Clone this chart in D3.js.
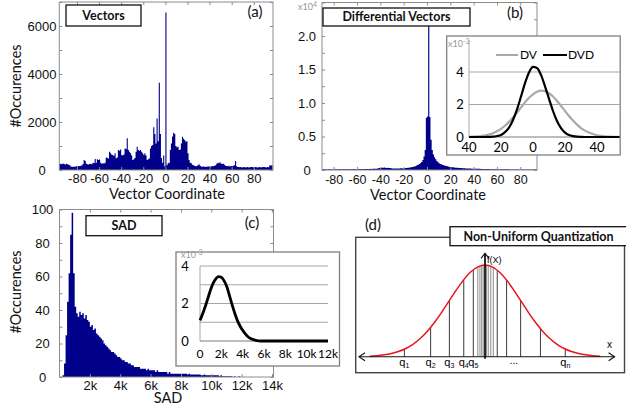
<!DOCTYPE html>
<html>
<head>
<meta charset="utf-8">
<title>Vector and SAD statistics</title>
<script src="https://d3js.org/d3.v7.min.js"></script>
<style>
  body { margin: 0; background: #fff; }
  svg { display: block; font-family: Lato, 'Noto Sans', sans-serif; }
  .frame { fill: none; stroke: #8c8c8c; stroke-width: 1; }
  .tick line { stroke: #8c8c8c; }
  .tick text { font-size: 13px; fill: #111; }
  .boxtitle { font-weight: bold; font-size: 12.5px; fill: #111; }
  .panel { font-size: 15px; fill: #111; }
  .atitle { font-size: 14.5px; fill: #111; }
  .mult { font-size: 9px; fill: #999; }
</style>
</head>
<body>
<svg id="fig" width="626" height="406"></svg>
<script>
// ---------- data ----------
// (a) vector coordinates, one bin per integer, first bin at -96
var vecStart = -96;
var vecCounts = [
  250, 260, 240, 270, 250, 230, 260, 240, 220, 200,
  150, 140, 130, 150, 140, 160, 150, 170, 160, 180,
  190, 250, 420, 380, 260, 240, 230, 250, 260, 240,
  300, 280, 460, 300, 450, 420, 440, 300, 260, 280,
  270, 300, 520, 500, 480, 760, 700, 640, 620, 580,
  700, 490, 520, 830, 800, 850, 620, 600, 650, 900,
  880, 1320, 830, 760, 700, 600, 420, 450, 500, 760,
  970, 830, 800, 830, 760, 700, 620, 700, 600, 420,
  450, 480, 900, 1000, 1040, 1780, 1500, 1100, 2150, 1200,
  3640, 1500, 500, 300, 600, 150, 6560, 200, 280, 300,
  830, 1100, 1400, 1550, 1500, 1000, 950, 970, 830, 850,
  1100, 1390, 1300, 1250, 1180, 1200, 700, 420, 300, 280,
  220, 200, 180, 160, 170, 200, 240, 180, 150, 140,
  150, 140, 130, 150, 140, 160, 140, 150, 170, 160,
  180, 200, 260, 300, 280, 320, 270, 250, 260, 220,
  180, 170, 160, 180, 150, 170, 160, 180, 200, 370,
  160, 120, 130, 110, 120, 100, 110, 120, 100, 110,
  120, 100, 110, 130, 120, 110, 100, 120, 110, 100,
  110, 120, 100, 110, 130, 120, 110, 100, 120, 110,
  200, 180, 210
];

// (b) differential vectors, one bin per integer, first bin at -90
var diffStart = -90;
var diffCounts = [
  100, 90, 110, 100, 90, 100, 110, 100, 90, 100,
  100, 110, 100, 120, 100, 110, 100, 120, 110, 100,
  120, 110, 130, 120, 110, 130, 120, 140, 130, 120,
  140, 130, 150, 140, 130, 150, 160, 140, 150, 160,
  150, 170, 160, 180, 170, 190, 200, 220, 250, 280,
  320, 350, 330, 360, 340, 300, 320, 280, 300, 260,
  240, 220, 230, 210, 220, 240, 230, 250, 260, 240,
  270, 290, 300, 320, 350, 380, 400, 450, 480, 520,
  600, 700, 800, 900, 1000, 1200, 1500, 2000, 3000, 7800,
  8000, 21500, 7900, 4500, 3000, 2300, 1900, 1600, 1350, 1150,
  1000, 900, 850, 750, 700, 650, 600, 550, 500, 480,
  450, 420, 400, 380, 350, 330, 320, 300, 290, 280,
  270, 260, 250, 240, 230, 220, 220, 210, 200, 200,
  190, 190, 180, 180, 170, 170, 160, 160, 150, 150,
  150, 140, 140, 140, 130, 130, 130, 120, 120, 120,
  120, 110, 110, 110, 110, 100, 100, 100, 100, 100,
  100, 90, 90, 90, 90, 90, 80, 80, 80, 80,
  80, 80, 70, 70, 70, 70, 70, 70, 70, 70,
  70, 70, 70, 70
];

// (b) inset: fitted densities (x10^-3)
var pdfX = [-40, -37.5, -35, -32.5, -30, -27.5, -25, -22.5, -20, -17.5,
            -15, -12.5, -10, -7.5, -5, -2.5, 0, 2.5, 5, 7.5,
            10, 12.5, 15, 17.5, 20, 22.5, 25, 27.5, 30, 32.5,
            35, 37.5, 40, 42.5, 45, 47.5, 50, 52.5, 55];
var dvPdf = [0.011, 0.02, 0.035, 0.06, 0.096, 0.154, 0.234, 0.35, 0.5, 0.69,
             0.93, 1.2, 1.5, 1.82, 2.13, 2.41, 2.63, 2.79, 2.85, 2.82,
             2.69, 2.49, 2.22, 1.92, 1.6, 1.29, 1.01, 0.76, 0.55, 0.39,
             0.27, 0.18, 0.11, 0.069, 0.041, 0.024, 0.014, 0.008, 0.004];
var dvdPdf = [0, 0, 0, 0, 0, 0.01, 0.02, 0.06, 0.13, 0.3,
              0.58, 1.05, 1.7, 2.49, 3.31, 3.97, 4.31, 4.25, 3.82, 3.12,
              2.35, 1.6, 0.98, 0.54, 0.27, 0.12, 0.05, 0.018, 0.006, 0,
              0, 0, 0, 0, 0, 0, 0, 0, 0];

// (c) SAD histogram, 100-wide bins from 200
var sadStart = 200, sadStep = 100;
var sadCounts = [
  1, 8, 25, 45, 62, 85, 98, 62, 42, 38,
  36, 39, 37, 38, 35, 37, 34, 33, 30, 31,
  28, 29, 26, 25, 24, 23, 22, 20, 19, 18,
  17, 16, 15, 15, 14, 13, 12, 12, 11, 10,
  10, 9, 9, 8, 8, 7, 7, 6, 6, 6,
  6, 5, 5, 5, 5, 4, 5, 4, 4, 4,
  4, 3, 4, 3, 3, 3, 3, 3, 3, 2,
  3, 2, 2, 2, 2, 2, 2, 2, 2, 2,
  2, 2, 1.5, 2, 1.5, 1.5, 1.5, 1.5, 1.5, 1.5,
  1.5, 1, 1, 1.5, 1, 1, 1, 1, 1, 1,
  1, 1, 1, 0.5, 1, 0.5, 0.5, 0.5, 0.5, 0.5,
  0.5, 0.5, 0, 0.5, 0, 0, 0.5, 0
];
// (c) inset density (x10^-3)
var sadPdfX = [0, 250, 500, 750, 1000, 1250, 1500, 1750, 2000, 2250,
               2500, 2750, 3000, 3250, 3500, 3750, 4000, 4250, 4500, 4750,
               5000, 5250, 5500, 5750, 6000, 6500, 7000, 7500, 8000, 8500,
               9000, 9500, 10000, 10500, 11000, 11500, 12000];
var sadPdf = [1.1, 1.45, 1.85, 2.3, 2.75, 3.1, 3.33, 3.43, 3.4, 3.22,
              2.92, 2.45, 1.95, 1.5, 1.1, 0.8, 0.57, 0.38, 0.23, 0.13,
              0.07, 0.03, 0.01, 0, 0, 0, 0, 0, 0, 0,
              0, 0, 0, 0, 0, 0, 0];

// (d) schematic normal density and quantisation levels
var gaussX = [-3.2, -3.0, -2.8, -2.6, -2.4, -2.2, -2.0, -1.8, -1.6, -1.4, -1.2,
              -1.0, -0.8, -0.6, -0.4, -0.2, 0, 0.2, 0.4, 0.6, 0.8, 1.0,
              1.2, 1.4, 1.6, 1.8, 2.0, 2.2, 2.4, 2.6, 2.8, 3.0, 3.2];
var gaussY = [0.006, 0.011, 0.02, 0.034, 0.056, 0.089, 0.135, 0.198, 0.278, 0.375, 0.487,
              0.607, 0.726, 0.835, 0.923, 0.98, 1, 0.98, 0.923, 0.835, 0.726, 0.607,
              0.487, 0.375, 0.278, 0.198, 0.135, 0.089, 0.056, 0.034, 0.02, 0.011, 0.006];
var quantLevels = [-2.24, -1.51, -0.99, -0.59, -0.325, -0.2, -0.14, -0.09, -0.05,
                   0.04, 0.09, 0.16, 0.23, 0.34, 0.6, 0.99, 1.54, 2.23];
var qLabelAt = [-2.24, -1.51, -0.99, -0.59, -0.325, 2.23];
var qLabelSub = ["1", "2", "3", "4", "5", "n"];

// ---------- drawing ----------
var svg = d3.select("#fig");
var ink = "#00008a";
var plain = function(d) { return String(d); };  // keeps the short hyphen minus

function histPath(x, y, start, step, counts) {
  var pts = counts.map(function(c, i) { return [start + i * step, c]; });
  pts.push([start + counts.length * step, counts[counts.length - 1]]);
  return d3.area()
    .x(function(d) { return x(d[0]); })
    .y0(y(0))
    .y1(function(d) { return y(d[1]); })
    .curve(d3.curveStepAfter)(pts);
}

function framedAxes(g, x, y, o) {
  var l = x.range()[0], r = x.range()[1], b = y.range()[0], t = y.range()[1];
  var xb = g.append("g").attr("transform", "translate(0," + b + ")")
    .call(d3.axisBottom(x).tickValues(o.xTicks).tickFormat(o.xFmt).tickSize(-3).tickPadding(o.xPad))
    .call(function(a) { a.select(".domain").remove(); });
  if (o.xFont) xb.selectAll("text").style("font-size", o.xFont);
  g.append("g").attr("transform", "translate(0," + t + ")")
    .call(d3.axisTop(x).tickValues(o.xTicks).tickFormat("").tickSize(-3))
    .call(function(a) { a.select(".domain").remove(); });
  var yl = g.append("g").attr("transform", "translate(" + l + ",0)")
    .call(d3.axisLeft(y).tickValues(o.yTicks).tickFormat(o.yFmt).tickSize(-3))
    .call(function(a) { a.select(".domain").remove(); });
  yl.selectAll("text").attr("text-anchor", "middle").attr("x", o.yLabelX - l);
  g.append("g").attr("transform", "translate(" + r + ",0)")
    .call(d3.axisRight(y).tickValues(o.yTicks).tickFormat("").tickSize(-3))
    .call(function(a) { a.select(".domain").remove(); });
  g.append("rect").attr("class", "frame")
    .attr("x", l).attr("y", t).attr("width", r - l).attr("height", b - t);
}

function titleBox(x0, y0, x1, y1, label) {
  svg.append("rect").attr("x", x0).attr("y", y0).attr("width", x1 - x0).attr("height", y1 - y0)
    .attr("fill", "#fff").attr("stroke", "#111").attr("stroke-width", 1.3);
  svg.append("text").attr("class", "boxtitle").attr("x", (x0 + x1) / 2).attr("y", (y0 + y1) / 2)
    .attr("dy", "0.35em").attr("text-anchor", "middle").text(label);
}

function mult(x, y, exp) {
  var t = svg.append("text").attr("class", "mult").attr("x", x).attr("y", y);
  t.append("tspan").text("x10");
  t.append("tspan").attr("dy", -3).attr("font-size", "7px").text(exp);
}

// ---- (a) Vectors ----
var xA = d3.scaleLinear().domain([-96, 97.4]).range([59.3, 273]);
var yA = d3.scaleLinear().domain([0, 7000]).range([170, 2]);
var gA = svg.append("g");
gA.append("path").attr("d", histPath(xA, yA, vecStart, 1, vecCounts)).attr("fill", ink);
framedAxes(gA, xA, yA, {
  xTicks: d3.range(-80, 81, 20), xFmt: plain, xPad: 4,
  yTicks: d3.range(0, 7001, 1000), yFmt: function(d) { return d % 2000 === 0 ? d : ""; },
  yLabelX: 42
});
titleBox(66, 5, 141, 26, "Vectors");
svg.append("text").attr("class", "panel").attr("x", 255).attr("y", 12).attr("dy", "0.35em")
  .attr("text-anchor", "middle").text("(a)");
svg.append("text").attr("class", "atitle").attr("x", 167).attr("y", 198.5)
  .attr("text-anchor", "middle").text("Vector Coordinate");
svg.append("text").attr("class", "atitle").attr("transform", "translate(21,86) rotate(-90)")
  .attr("text-anchor", "middle").text("#Occurences");

// ---- (b) Differential Vectors ----
var xB = d3.scaleLinear().domain([-90, 94.3]).range([322, 537]);
var yB = d3.scaleLinear().domain([0, 25000]).range([170, 2.5]);
var gB = svg.append("g");
gB.append("path").attr("d", histPath(xB, yB, diffStart, 1, diffCounts)).attr("fill", ink);
framedAxes(gB, xB, yB, {
  xTicks: d3.range(-80, 81, 20), xFmt: plain, xPad: 5, xFont: "12.5px",
  yTicks: d3.range(0, 25001, 2500),
  yFmt: function(d) { return d === 0 ? "0" : (d % 5000 === 0 && d < 25000 ? (d / 10000).toFixed(1) : ""); },
  yLabelX: 307
});
mult(298, 10, "4");
titleBox(323, 8, 470, 26, "Differential Vectors");
svg.append("text").attr("class", "panel").attr("x", 515).attr("y", 13).attr("dy", "0.35em")
  .attr("text-anchor", "middle").text("(b)");
svg.append("text").attr("class", "atitle").attr("x", 428).attr("y", 199.5)
  .attr("text-anchor", "middle").text("Vector Coordinate");

// (b) inset
svg.append("rect").attr("x", 446.7).attr("y", 36).attr("width", 173.5).attr("height", 119)
  .attr("fill", "#fff").attr("stroke", "#808080").attr("stroke-width", 1.3);
var xBi = d3.scaleLinear().domain([-40, 55]).range([469, 621]);
var yBi = d3.scaleLinear().domain([0, 6]).range([137, 39.5]);
svg.append("clipPath").attr("id", "clipB").append("rect")
  .attr("x", 469).attr("y", 37).attr("width", 150.5).attr("height", 117);
var gBi = svg.append("g");
gBi.selectAll("line.grid").data([2, 4]).join("line").attr("class", "grid")
  .attr("x1", 469).attr("x2", 620).attr("y1", function(d) { return yBi(d); }).attr("y2", function(d) { return yBi(d); })
  .attr("stroke", "#a6a6a6");
gBi.append("line").attr("x1", 469).attr("x2", 469).attr("y1", 40).attr("y2", yBi(0)).attr("stroke", "#a6a6a6");
gBi.append("line").attr("x1", 469).attr("x2", 620).attr("y1", yBi(0)).attr("y2", yBi(0)).attr("stroke", "#7a7a7a");
gBi.selectAll("text.yl").data([0, 2, 4]).join("text").attr("class", "yl")
  .attr("x", 460).attr("y", function(d) { return yBi(d); }).attr("dy", "0.35em")
  .attr("text-anchor", "middle").attr("font-size", "13px").text(function(d) { return d; });
gBi.selectAll("text.xl").data([-40, -20, 0, 20, 40]).join("text").attr("class", "xl")
  .attr("x", function(d) { return xBi(d); }).attr("y", 147).attr("dy", "0.35em")
  .attr("text-anchor", "middle").attr("font-size", "13px").text(function(d) { return Math.abs(d); });
var lineB = function(vals) {
  return d3.line().x(function(d, i) { return xBi(pdfX[i]); }).y(function(d) { return yBi(d); })
    .curve(d3.curveMonotoneX)(vals);
};
gBi.append("path").attr("d", lineB(dvPdf)).attr("fill", "none").attr("stroke", "#a9a9a9")
  .attr("stroke-width", 2.2).attr("clip-path", "url(#clipB)");
gBi.append("path").attr("d", lineB(dvdPdf)).attr("fill", "none").attr("stroke", "#000")
  .attr("stroke-width", 2.2).attr("clip-path", "url(#clipB)");
mult(448, 47, "-3");
// legend
gBi.append("line").attr("x1", 496).attr("x2", 518).attr("y1", 55).attr("y2", 55).attr("stroke", "#a9a9a9").attr("stroke-width", 2);
gBi.append("text").attr("x", 520).attr("y", 55).attr("dy", "0.35em").attr("font-size", "12px").text("DV");
gBi.append("line").attr("x1", 543).attr("x2", 567).attr("y1", 55).attr("y2", 55).attr("stroke", "#000").attr("stroke-width", 2);
gBi.append("text").attr("x", 568).attr("y", 55).attr("dy", "0.35em").attr("font-size", "12px").text("DVD");

// ---- (c) SAD ----
var xC = d3.scaleLinear().domain([0, 14100]).range([59.5, 273.5]);
var yC = d3.scaleLinear().domain([0, 100]).range([377, 209.5]);
var gC = svg.append("g");
gC.append("path").attr("d", histPath(xC, yC, sadStart, sadStep, sadCounts)).attr("fill", ink);
framedAxes(gC, xC, yC, {
  xTicks: d3.range(2000, 14001, 2000), xFmt: function(d) { return d / 1000 + "k"; }, xPad: 4,
  yTicks: d3.range(0, 101, 10), yFmt: function(d) { return d % 20 === 0 ? d : ""; },
  yLabelX: 42.5
});
titleBox(86, 215.7, 162, 235.7, "SAD");
svg.append("text").attr("class", "panel").attr("x", 252).attr("y", 223).attr("dy", "0.35em")
  .attr("text-anchor", "middle").text("(c)");
svg.append("text").attr("class", "atitle").attr("x", 168).attr("y", 403)
  .attr("text-anchor", "middle").text("SAD");
svg.append("text").attr("class", "atitle").attr("transform", "translate(21,292) rotate(-90)")
  .attr("text-anchor", "middle").text("#Occurences");

// (c) inset
svg.append("rect").attr("x", 176).attr("y", 252).attr("width", 163.5).attr("height", 114)
  .attr("fill", "#fff").attr("stroke", "#808080").attr("stroke-width", 1.3);
var xCi = d3.scaleLinear().domain([0, 12000]).range([200, 328]);
var yCi = d3.scaleLinear().domain([0, 4]).range([341, 266]);
var gCi = svg.append("g");
gCi.selectAll("line.grid").data([1, 2, 3, 4]).join("line").attr("class", "grid")
  .attr("x1", 200).attr("x2", 328).attr("y1", function(d) { return yCi(d); }).attr("y2", function(d) { return yCi(d); })
  .attr("stroke", "#a6a6a6");
gCi.append("line").attr("x1", 200).attr("x2", 200).attr("y1", yCi(4)).attr("y2", yCi(0)).attr("stroke", "#a6a6a6");
gCi.append("line").attr("x1", 200).attr("x2", 328).attr("y1", yCi(0)).attr("y2", yCi(0)).attr("stroke", "#7a7a7a");
gCi.selectAll("text.yl").data([0, 2, 4]).join("text").attr("class", "yl")
  .attr("x", 185).attr("y", function(d) { return yCi(d); }).attr("dy", "0.35em")
  .attr("text-anchor", "middle").attr("font-size", "13px").text(function(d) { return d; });
gCi.selectAll("text.xl").data(d3.range(0, 12001, 2000)).join("text").attr("class", "xl")
  .attr("x", function(d) { return xCi(d); }).attr("y", 354).attr("dy", "0.35em")
  .attr("text-anchor", "middle").attr("font-size", "12px").text(function(d) { return d === 0 ? "0" : d / 1000 + "k"; });
gCi.append("path")
  .attr("d", d3.line().x(function(d, i) { return xCi(sadPdfX[i]); }).y(function(d) { return yCi(d); })
    .curve(d3.curveMonotoneX)(sadPdf))
  .attr("fill", "none").attr("stroke", "#000").attr("stroke-width", 2.8);
mult(181, 258, "-3");

// ---- (d) Non-Uniform Quantization ----
var xD = d3.scaleLinear().domain([-3.5, 3.6]).range([359, 614.6]);
var yD = d3.scaleLinear().domain([0, 1]).range([356.7, 265]);
function gaussAt(u) {
  var i = d3.bisectRight(gaussX, u) - 1;
  i = Math.max(0, Math.min(gaussX.length - 2, i));
  var f = (u - gaussX[i]) / (gaussX[i + 1] - gaussX[i]);
  return gaussY[i] + f * (gaussY[i + 1] - gaussY[i]);
}
var gD = svg.append("g");
svg.append("text").attr("class", "panel").attr("x", 373).attr("y", 225).attr("dy", "0.35em")
  .attr("text-anchor", "middle").text("(d)");
gD.append("rect").attr("x", 355.7).attr("y", 237.3).attr("width", 268.8).attr("height", 135.4)
  .attr("fill", "none").attr("stroke", "#444").attr("stroke-width", 1.4);
gD.selectAll("line.q").data(quantLevels).join("line").attr("class", "q")
  .attr("x1", function(d) { return xD(d); }).attr("x2", function(d) { return xD(d); })
  .attr("y1", yD(0)).attr("y2", function(d) { return yD(gaussAt(d)); })
  .attr("stroke", function(d) { return Math.abs(d) < 0.3 ? "#8a8a8a" : "#3a3a3a"; })
  .attr("stroke-width", 1);
gD.append("path")
  .attr("d", d3.line().x(function(d, i) { return xD(gaussX[i]); }).y(function(d) { return yD(d); })
    .curve(d3.curveNatural)(gaussY))
  .attr("fill", "none").attr("stroke", "#e8141b").attr("stroke-width", 1.5);
// axes with open arrowheads
var x0 = xD(-3.5), x1 = xD(3.6), yb = yD(0), xc = xD(0), ytop = 253.3;
gD.append("line").attr("x1", x0).attr("x2", x1).attr("y1", yb).attr("y2", yb).attr("stroke", "#111").attr("stroke-width", 1.1);
gD.append("path").attr("d", "M" + (x0 + 6) + "," + (yb - 4) + "L" + x0 + "," + yb + "L" + (x0 + 6) + "," + (yb + 4))
  .attr("fill", "none").attr("stroke", "#111").attr("stroke-width", 1.1);
gD.append("path").attr("d", "M" + (x1 - 6) + "," + (yb - 4) + "L" + x1 + "," + yb + "L" + (x1 - 6) + "," + (yb + 4))
  .attr("fill", "none").attr("stroke", "#111").attr("stroke-width", 1.1);
gD.append("line").attr("x1", xc).attr("x2", xc).attr("y1", yb + 2).attr("y2", ytop).attr("stroke", "#111").attr("stroke-width", 1.8);
gD.append("path").attr("d", "M" + (xc - 4) + "," + (ytop + 5) + "L" + xc + "," + ytop + "L" + (xc + 4) + "," + (ytop + 5))
  .attr("fill", "none").attr("stroke", "#111").attr("stroke-width", 1.1);
gD.append("text").attr("x", xc + 2).attr("y", 260).attr("dy", "0.35em")
  .attr("font-family", "'Liberation Sans', Arial, sans-serif").attr("font-size", "9px").text("f(X)");
gD.append("text").attr("x", 607).attr("y", 348)
  .attr("font-family", "'Liberation Sans', Arial, sans-serif").attr("font-size", "10px").text("x");
var qt = gD.selectAll("text.ql").data(qLabelAt).join("text").attr("class", "ql")
  .attr("x", function(d) { return xD(d); }).attr("y", 366)
  .attr("text-anchor", "middle")
  .attr("font-family", "'Liberation Sans', Arial, sans-serif").attr("font-size", "11px");
qt.append("tspan").text("q");
qt.append("tspan").attr("dy", 2).attr("font-size", "7px").text(function(d, i) { return qLabelSub[i]; });
gD.append("text").attr("x", xD(0.8)).attr("y", 364).attr("text-anchor", "middle")
  .attr("font-family", "'Liberation Sans', Arial, sans-serif").attr("font-size", "10px").text("...");
titleBox(450, 226.7, 627, 245.7, "Non-Uniform Quantization");
</script>
</body>
</html>
